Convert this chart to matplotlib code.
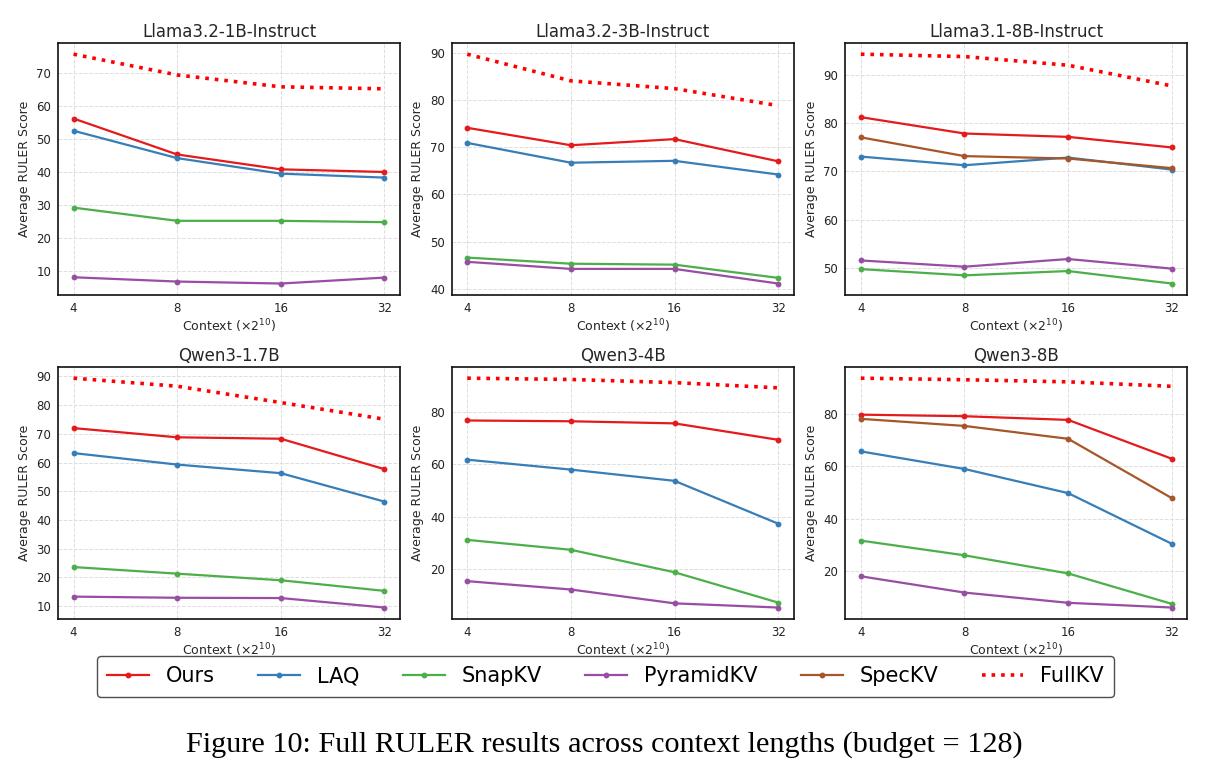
import matplotlib
matplotlib.use("Agg")
import matplotlib.pyplot as plt

# context lengths (x 2^10)
contexts = [4, 8, 16, 32]

titles = ["Llama3.2-1B-Instruct", "Llama3.2-3B-Instruct", "Llama3.1-8B-Instruct",
          "Qwen3-1.7B", "Qwen3-4B", "Qwen3-8B"]

# average RULER score per model
ours = [
    [56.1, 45.2, 40.7, 39.9],
    [74.1, 70.4, 71.7, 67.0],
    [81.3, 77.9, 77.2, 75.0],
    [72.0, 68.8, 68.3, 57.7],
    [76.8, 76.5, 75.7, 69.4],
    [79.6, 79.0, 77.6, 62.8],
]
laq = [
    [52.4, 44.1, 39.4, 38.2],
    [70.9, 66.7, 67.1, 64.2],
    [73.1, 71.3, 72.9, 70.4],
    [63.3, 59.3, 56.3, 46.4],
    [61.8, 58.0, 53.7, 37.3],
    [65.6, 58.9, 49.7, 30.4],
]
snapkv = [
    [29.1, 25.1, 25.1, 24.7],
    [46.6, 45.3, 45.1, 42.3],
    [49.7, 48.4, 49.3, 46.7],
    [23.6, 21.3, 19.0, 15.3],
    [31.1, 27.3, 18.7, 7.1],
    [31.6, 26.0, 19.1, 7.5],
]
pyramidkv = [
    [8.0, 6.7, 6.1, 7.9],
    [45.7, 44.2, 44.2, 41.1],
    [51.5, 50.2, 51.8, 49.8],
    [13.3, 12.9, 12.8, 9.5],
    [15.3, 12.1, 6.8, 5.2],
    [18.0, 11.8, 7.9, 6.1],
]
# SpecKV only reported for the 8B models
speckv = [
    None,
    None,
    [77.1, 73.2, 72.7, 70.7],
    None,
    None,
    [78.0, 75.3, 70.4, 47.8],
]
fullkv = [
    [75.6, 69.3, 65.7, 65.1],
    [89.7, 84.05, 82.4, 78.8],
    [94.4, 93.9, 92.1, 87.8],
    [89.4, 86.6, 80.9, 75.1],
    [93.0, 92.5, 91.3, 89.3],
    [93.5, 92.9, 92.1, 90.4],
]

colors = {"Ours": "#e41a1c", "LAQ": "#377eb8", "SnapKV": "#4daf4a",
          "PyramidKV": "#984ea3", "SpecKV": "#a65628"}

W, H = 1209, 778
fig = plt.figure(figsize=(W / 100, H / 100), dpi=100)

lefts = [58, 451.7, 845.3]
tops = [42.7, 366.7]
aw, ah = 342, 252.3

handles = {}
for i in range(6):
    r, c = divmod(i, 3)
    ax = fig.add_axes([lefts[c] / W, 1 - (tops[r] + ah) / H, aw / W, ah / H])
    series = [("Ours", ours[i]), ("LAQ", laq[i]), ("SnapKV", snapkv[i]),
              ("PyramidKV", pyramidkv[i]), ("SpecKV", speckv[i])]
    for name, vals in series:
        if vals is None:
            continue
        ln, = ax.plot(contexts, vals, color=colors[name], lw=1.6, marker="o",
                      markersize=3.2, label=name)
        handles.setdefault(name, ln)
    ln, = ax.plot(contexts, fullkv[i], color="red", lw=2.6, ls=":", label="FullKV")
    handles.setdefault("FullKV", ln)

    ax.set_xscale("log", base=2)
    ax.set_xticks(contexts)
    ax.set_xticklabels([str(v) for v in contexts])
    ax.minorticks_off()
    ax.tick_params(length=0, labelsize=8.5, colors="#222222", pad=5)
    ax.grid(True, ls="--", color="#dddddd", lw=0.7)
    ax.set_axisbelow(True)
    for s in ax.spines.values():
        s.set_color("#111111")
        s.set_linewidth(1.2)
    ax.set_title(titles[i], fontsize=12, color="#262626", pad=4)
    ax.set_xlabel(r"Context ($\times 2^{10}$)", fontsize=9, color="#262626", labelpad=2)
    ax.set_ylabel("Average RULER Score", fontsize=9, color="#262626", labelpad=4)

order = ["Ours", "LAQ", "SnapKV", "PyramidKV", "SpecKV", "FullKV"]
leg = fig.legend([handles[k] for k in order], order, loc="center",
                 bbox_to_anchor=(605.5 / W, 1 - 676.5 / H), ncol=6,
                 fontsize=15, frameon=True, columnspacing=2.1,
                 handlelength=2.0, borderpad=0.5, fancybox=True)
leg.get_frame().set_edgecolor("#222222")
leg.get_frame().set_linewidth(1.0)

fig.text(0.5, 1 - 745 / H, "Figure 10: Full RULER results across context lengths (budget = 128)",
         ha="center", va="center", fontsize=21.8, family="Liberation Serif")

fig.savefig("out.png", dpi=100)
